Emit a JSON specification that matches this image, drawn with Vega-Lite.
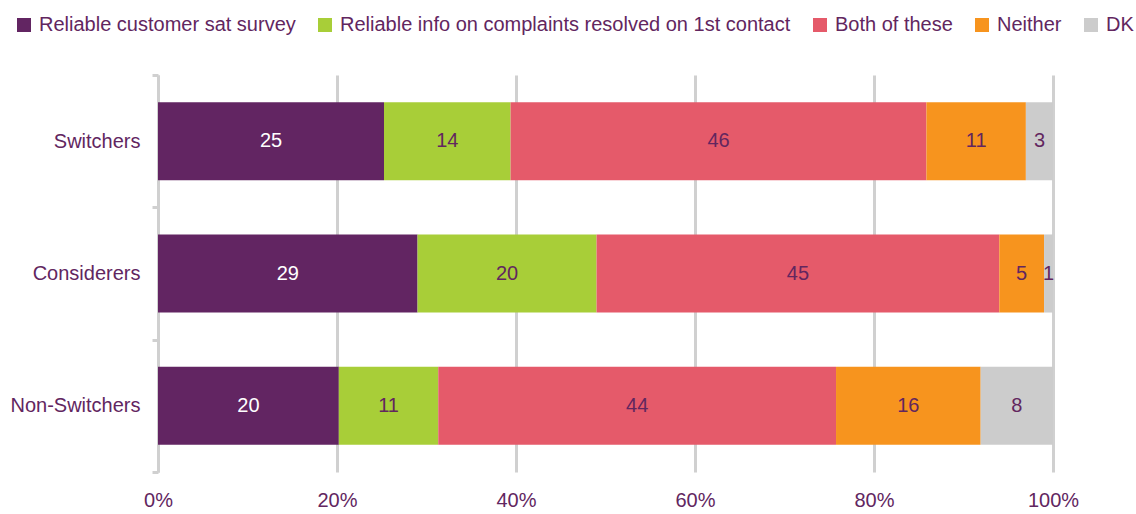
{
  "$schema": "https://vega.github.io/schema/vega-lite/v6.json",
  "width": 895,
  "height": 397,
  "autosize": "none",
  "padding": {"left": 158, "top": 75, "right": 83, "bottom": 42},
  "background": "white",
  "config": {
    "font": "Liberation Sans",
    "view": {"stroke": null},
    "axis": {"labelFont": "Liberation Sans", "labelFontSize": 20, "labelColor": "#62265F"},
    "legend": {"labelFont": "Liberation Sans"}
  },
  "data": {
    "values": [
      {"group": "Switchers", "cat": "Reliable customer sat survey", "idx": 1, "value": 25},
      {"group": "Switchers", "cat": "Reliable info on complaints resolved on 1st contact", "idx": 2, "value": 14},
      {"group": "Switchers", "cat": "Both of these", "idx": 3, "value": 46},
      {"group": "Switchers", "cat": "Neither", "idx": 4, "value": 11},
      {"group": "Switchers", "cat": "DK", "idx": 5, "value": 3},
      {"group": "Considerers", "cat": "Reliable customer sat survey", "idx": 1, "value": 29},
      {"group": "Considerers", "cat": "Reliable info on complaints resolved on 1st contact", "idx": 2, "value": 20},
      {"group": "Considerers", "cat": "Both of these", "idx": 3, "value": 45},
      {"group": "Considerers", "cat": "Neither", "idx": 4, "value": 5},
      {"group": "Considerers", "cat": "DK", "idx": 5, "value": 1},
      {"group": "Non-Switchers", "cat": "Reliable customer sat survey", "idx": 1, "value": 20},
      {"group": "Non-Switchers", "cat": "Reliable info on complaints resolved on 1st contact", "idx": 2, "value": 11},
      {"group": "Non-Switchers", "cat": "Both of these", "idx": 3, "value": 44},
      {"group": "Non-Switchers", "cat": "Neither", "idx": 4, "value": 16},
      {"group": "Non-Switchers", "cat": "DK", "idx": 5, "value": 8}
    ]
  },
  "transform": [
    {"stack": "value", "groupby": ["group"], "sort": [{"field": "idx", "order": "ascending"}], "offset": "normalize", "as": ["x0", "x1"]},
    {"calculate": "(datum.x0 + datum.x1) / 2", "as": "xm"}
  ],
  "encoding": {
    "y": {
      "field": "group", "type": "nominal",
      "sort": ["Switchers", "Considerers", "Non-Switchers"],
      "scale": {"paddingInner": 0, "paddingOuter": 0},
      "axis": {
        "title": null, "tickBand": "extent", "ticks": true, "tickSize": 6, "tickColor": "#D0D0D0", "tickWidth": 3,
        "domain": true, "domainColor": "#D0D0D0", "domainWidth": 3, "labelPadding": 12, "grid": false
      }
    }
  },
  "layer": [
    {
      "mark": {"type": "bar", "height": {"band": 0.59}},
      "encoding": {
        "x": {
          "field": "x0", "type": "quantitative",
          "scale": {"domain": [0, 1], "nice": false},
          "axis": {
            "title": null, "format": "%", "values": [0, 0.2, 0.4, 0.6, 0.8, 1],
            "grid": true, "gridColor": "#D0D0D0", "gridWidth": 3, "labelFlush": false,
            "domain": false, "ticks": false, "labelPadding": 18
          }
        },
        "x2": {"field": "x1"},
        "color": {
          "field": "cat", "type": "nominal",
          "scale": {
            "domain": ["Reliable customer sat survey", "Reliable info on complaints resolved on 1st contact", "Both of these", "Neither", "DK"],
            "range": ["#622562", "#A8CE38", "#E55A6A", "#F7941E", "#CCCCCC"]
          },
          "legend": {
            "title": null, "orient": "none", "direction": "horizontal",
            "legendX": -144, "legendY": -60,
            "symbolType": "square", "symbolSize": 196, "symbolStrokeWidth": 0,
            "labelFontSize": 20, "labelColor": "#62265F", "labelOffset": 5,
            "columnPadding": 19, "labelLimit": 600
          }
        }
      }
    },
    {
      "mark": {"type": "text", "fontSize": 20, "font": "Liberation Sans"},
      "encoding": {
        "x": {"field": "xm", "type": "quantitative"},
        "text": {"field": "value", "type": "quantitative"},
        "color": {
          "condition": {"test": "datum.idx === 1", "value": "white"},
          "value": "#62265F"
        }
      }
    }
  ]
}
